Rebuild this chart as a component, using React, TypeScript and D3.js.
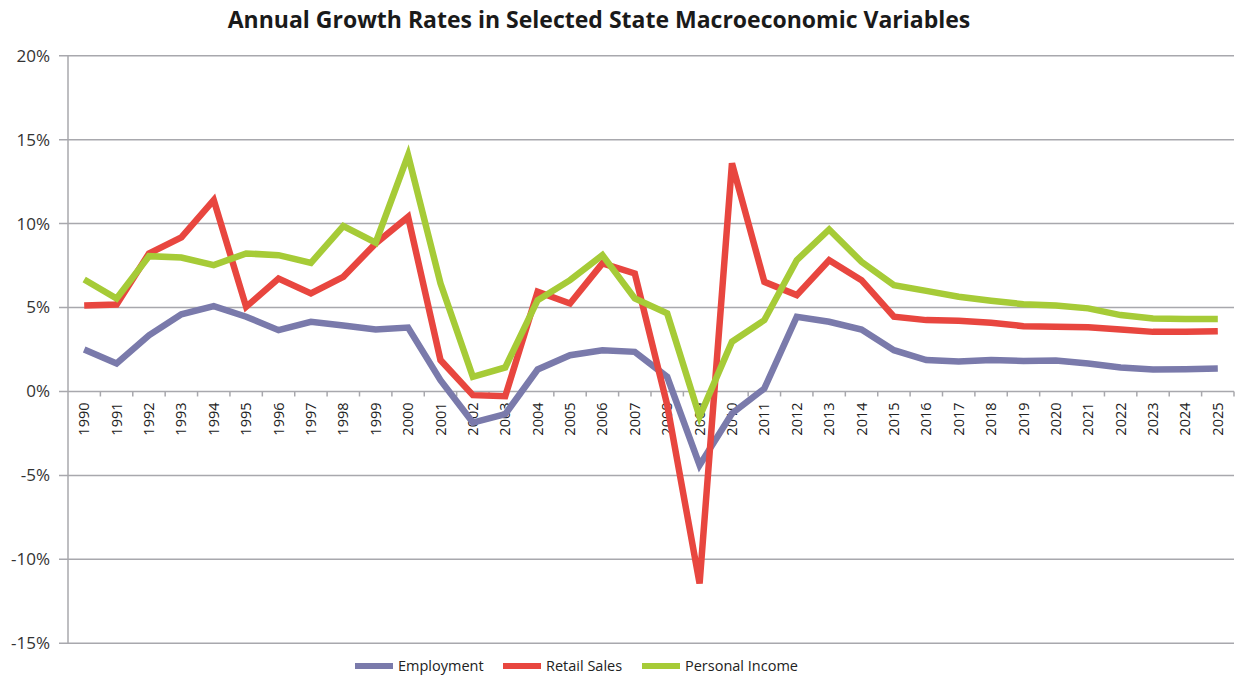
import React, { useEffect, useRef } from "react";
import * as d3 from "d3";

const years = d3.range(1990, 2026).map(String);

const employment = [
  2.5, 1.67, 3.35, 4.6, 5.08, 4.45, 3.65, 4.15, 3.93, 3.69, 3.81, 0.67, -1.85, -1.35,
  1.31, 2.16, 2.46, 2.36, 0.87, -4.39, -1.31, 0.18, 4.45, 4.15, 3.69, 2.46, 1.87,
  1.79, 1.87, 1.82, 1.85, 1.67, 1.43, 1.31, 1.33, 1.37,
];
const retailSales = [
  5.12, 5.18, 8.22, 9.18, 11.4, 5.04, 6.73, 5.84, 6.83, 8.82, 10.4, 1.87, -0.22,
  -0.28, 5.94, 5.24, 7.63, 7.03, -0.8, -11.44, 13.59, 6.53, 5.74, 7.82, 6.63, 4.45,
  4.25, 4.21, 4.09, 3.89, 3.85, 3.83, 3.69, 3.55, 3.55, 3.59,
];
const personalIncome = [
  6.67, 5.54, 8.06, 7.98, 7.53, 8.22, 8.12, 7.66, 9.85, 8.86, 14.08, 6.44, 0.87,
  1.43, 5.44, 6.63, 8.12, 5.54, 4.65, -1.5, 2.96, 4.25, 7.82, 9.65, 7.72, 6.33,
  5.99, 5.64, 5.4, 5.2, 5.12, 4.95, 4.55, 4.35, 4.31, 4.31,
];
const yTicks = [-15, -10, -5, 0, 5, 10, 15, 20];

const seriesNames = ["Employment", "Retail Sales", "Personal Income"];
const seriesColors = ["#7a7aab", "#e8463f", "#a6cb37"];

const App = () => {
  const svgRef = useRef<SVGSVGElement>(null);
  const width = 1235;
  const height = 676;

  useEffect(() => {
    document.body.style.margin = "0";
    const svg = d3.select(svgRef.current);
    svg.selectAll("*").remove();

    const left = 68;
    const right = 1234;
    const top = 55.7;
    const bottom = 643.3;

    const x = d3.scaleBand().domain(years).range([left, right]);
    const y = d3.scaleLinear().domain([-15, 20]).range([bottom, top]);

    // title
    svg
      .append("text")
      .attr("x", 599)
      .attr("y", 28)
      .attr("text-anchor", "middle")
      .style("font-family", "Open Sans")
      .style("font-weight", "bold")
      .style("font-size", "23px")
      .style("fill", "#1a1a1a")
      .text("Annual Growth Rates in Selected State Macroeconomic Variables");

    // gridlines
    svg
      .append("g")
      .selectAll("line")
      .data(yTicks)
      .enter()
      .append("line")
      .attr("x1", left - 9)
      .attr("x2", right)
      .attr("y1", (d) => y(d))
      .attr("y2", (d) => y(d))
      .style("stroke", "#a8a8ad")
      .style("stroke-width", 1.5);

    // y axis line
    svg
      .append("line")
      .attr("x1", left)
      .attr("x2", left)
      .attr("y1", top)
      .attr("y2", bottom)
      .style("stroke", "#a8a8ad")
      .style("stroke-width", 1.5);

    // y labels
    svg
      .append("g")
      .selectAll("text")
      .data(yTicks)
      .enter()
      .append("text")
      .attr("x", 50)
      .attr("y", (d) => y(d))
      .attr("dy", "0.35em")
      .attr("text-anchor", "end")
      .style("font-family", "Open Sans")
      .style("font-size", "17px")
      .style("fill", "#333")
      .text((d) => `${d}%`);

    // category ticks on the zero line
    svg
      .append("g")
      .selectAll("line")
      .data(years)
      .enter()
      .append("line")
      .attr("x1", (d) => x(d)! + x.bandwidth())
      .attr("x2", (d) => x(d)! + x.bandwidth())
      .attr("y1", y(0))
      .attr("y2", y(0) + 5)
      .style("stroke", "#a8a8ad")
      .style("stroke-width", 1.5);

    // year labels
    svg
      .append("g")
      .selectAll("text")
      .data(years)
      .enter()
      .append("text")
      .attr(
        "transform",
        (d) => `translate(${x(d)! + x.bandwidth() / 2},${y(0) + 11}) rotate(-90)`
      )
      .attr("dy", "0.35em")
      .attr("text-anchor", "end")
      .style("font-family", "Open Sans")
      .style("font-size", "14.5px")
      .style("fill", "#222")
      .text((d) => d);

    // lines
    const line = d3
      .line<number>()
      .x((d, i) => x(years[i])! + x.bandwidth() / 2)
      .y((d) => y(d));

    [employment, retailSales, personalIncome].forEach((data, k) => {
      svg
        .append("path")
        .attr("d", line(data))
        .style("fill", "none")
        .style("stroke", seriesColors[k])
        .style("stroke-width", 6.5)
        .style("stroke-linejoin", "miter")
        .style("stroke-linecap", "butt");
    });

    // legend
    const legendX = [355, 503, 642];
    const legend = svg
      .append("g")
      .selectAll("g")
      .data(seriesNames)
      .enter()
      .append("g")
      .attr("transform", (d, i) => `translate(${legendX[i]},666)`);
    legend
      .append("rect")
      .attr("x", 0)
      .attr("y", -3)
      .attr("width", 38)
      .attr("height", 6)
      .style("fill", (d, i) => seriesColors[i]);
    legend
      .append("text")
      .attr("x", 43)
      .attr("dy", "0.35em")
      .style("font-family", "Open Sans")
      .style("font-size", "14.5px")
      .style("fill", "#222")
      .text((d) => d);
  }, []);

  return <svg ref={svgRef} width={width} height={height}></svg>;
};

export default App;
